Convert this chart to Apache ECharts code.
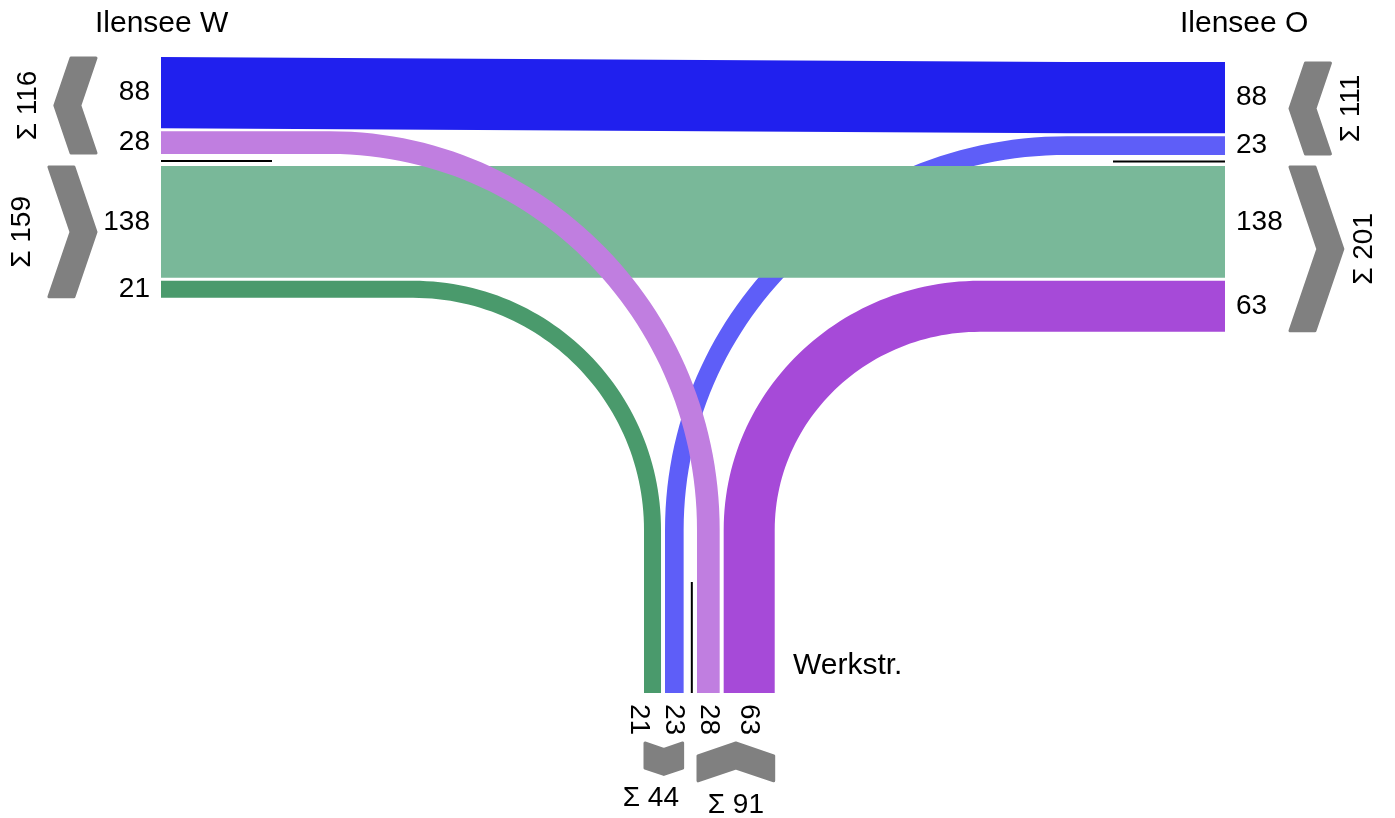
<!DOCTYPE html>
<html>
<head>
<meta charset="utf-8">
<title>Ilensee / Werkstr.</title>
<script src="https://cdn.jsdelivr.net/npm/echarts@6/dist/echarts.min.js"></script>
<style>
    html, body { margin: 0; padding: 0; background: #fff; }
    #chart { width: 1395px; height: 818px; }
</style>
</head>
<body>
<div id="chart"></div>
<script>
/**
 * DATA
 */
var armNames = ['Ilensee W', 'Ilensee O', 'Werkstr.'];
// 0: O->W, 1: Werkstr->W, 2: W->O, 3: W->Werkstr, 4: O->Werkstr, 5: Werkstr->O
var flowValues = [88, 28, 138, 21, 23, 63];
// lanes per arm, grouped (the black line splits the groups)
var westGroups = [[0, 1], [2, 3]];
var eastGroups = [[0, 4], [2, 5]];
var southGroups = [[3, 4], [1, 5]];
var westDirs = ['out', 'in'];
var eastDirs = ['in', 'out'];
var southDirs = ['out', 'in'];

/**
 * LAYOUT / STYLE
 */
var SCALE = 0.81;   // px per vehicle
var westX = 161, eastX = 1225;
var westStarts = [57, 166], eastStarts = [62, 166], southStarts = [644, 697];
var laneGap = 3, southGap = 4;
var bendY = 530, southEnd = 693;
var bendX = {1: 330, 3: 413, 4: 1067, 5: 980};
var kinkX = 1067;
var HANDLE = 0.5523;  // bezier handle, ~quarter ellipse
var flowColors = ['#2020ee', '#c07ee0', '#79b899', '#4a9a6c', '#5e5ef8', '#a64ad8'];
var drawOrder = [4, 0, 3, 5, 2, 1];
var chevronColor = '#808080';
var FONT = 'Liberation Sans, Arial, sans-serif';

function stackLanes(groups, starts, gap) {
    var pos = {};
    groups.forEach(function (g, gi) {
        var p = starts[gi];
        g.forEach(function (fi) {
            var w = flowValues[fi] * SCALE;
            pos[fi] = {start: p, width: w};
            p += w + gap;
        });
    });
    return pos;
}
var westLanes = stackLanes(westGroups, westStarts, laneGap);
var eastLanes = stackLanes(eastGroups, eastStarts, laneGap);
var southLanes = stackLanes(southGroups, southStarts, southGap);

function groupSpan(groups, lanes, gi) {
    var g = groups[gi];
    var last = lanes[g[g.length - 1]];
    return [lanes[g[0]].start, last.start + last.width];
}

// bend from (x0, y0) heading horizontally to (x1, bendY) heading down
function bend(x0, y0, x1, n) {
    var p1 = [x0 + (x1 - x0) * HANDLE, y0];
    var p2 = [x1, bendY - (bendY - y0) * HANDLE];
    var pts = [];
    for (var k = 0; k <= n; k++) {
        var t = k / n, u = 1 - t;
        var a = u * u * u, b = 3 * u * u * t, c = 3 * u * t * t, d = t * t * t;
        pts.push([a * x0 + b * p1[0] + c * p2[0] + d * x1,
                  a * y0 + b * p1[1] + c * p2[1] + d * bendY]);
    }
    return pts;
}

function bandPoints(i) {
    var w = flowValues[i] * SCALE;
    if (southLanes[i] === undefined) {
        var a = westLanes[i].start, b = eastLanes[i].start;
        return [[westX, a], [kinkX, b], [eastX, b], [eastX, b + w], [kinkX, b + w], [westX, a + w]];
    }
    var fromWest = westLanes[i] !== undefined;
    var arm = fromWest ? westLanes[i] : eastLanes[i];
    var armX = fromWest ? westX : eastX;
    var cx = bendX[i];
    var yTop = arm.start;
    var xl = southLanes[i].start;
    var outerX = fromWest ? xl + w : xl;
    var innerX = fromWest ? xl : xl + w;
    var outer = bend(cx, yTop, outerX, 60);
    var inner = bend(cx, yTop + w, innerX, 60).reverse();
    var pts = [[armX, yTop]].concat(outer);
    pts.push([outerX, southEnd], [innerX, southEnd]);
    pts = pts.concat(inner);
    pts.push([armX, yTop + w]);
    return pts;
}

// chevrons: [arm, groupIndex]
var chevronItems = [['W', 0], ['W', 1], ['O', 0], ['O', 1], ['S', 0], ['S', 1]];
var CH_T = 25, CH_K = 0.17;

function chevron(arm, gi) {
    var sp, d, dir, pts, mid;
    if (arm === 'S') {
        sp = groupSpan(southGroups, southLanes, gi);
        sp = [sp[0] + 1, sp[1] - 1];
        d = CH_K * (sp[1] - sp[0]);
        mid = (sp[0] + sp[1]) / 2;
        var y0 = 743;
        if (southDirs[gi] === 'out') {
            pts = [[sp[0], y0], [mid, y0 + d], [sp[1], y0], [sp[1], y0 + CH_T], [mid, y0 + CH_T + d], [sp[0], y0 + CH_T]];
        } else {
            pts = [[sp[0], y0 + d], [mid, y0], [sp[1], y0 + d], [sp[1], y0 + d + CH_T], [mid, y0 + CH_T], [sp[0], y0 + d + CH_T]];
        }
        return {pts: pts, text: [mid, y0 + CH_T + d + 24], rot: 0};
    }
    var west = arm === 'W';
    sp = west ? groupSpan(westGroups, westLanes, gi) : groupSpan(eastGroups, eastLanes, gi);
    sp = [sp[0] + 1, sp[1] - 1];
    d = CH_K * (sp[1] - sp[0]);
    mid = (sp[0] + sp[1]) / 2;
    dir = west ? westDirs[gi] : eastDirs[gi];
    var pointLeft = west ? dir === 'out' : dir === 'in';
    var x0 = west ? 96 - CH_T - d : 1290;   // left bound
    if (pointLeft) {
        pts = [[x0 + d, sp[0]], [x0 + d + CH_T, sp[0]], [x0 + CH_T, mid], [x0 + d + CH_T, sp[1]], [x0 + d, sp[1]], [x0, mid]];
    } else {
        pts = [[x0, sp[0]], [x0 + CH_T, sp[0]], [x0 + CH_T + d, mid], [x0 + CH_T, sp[1]], [x0, sp[1]], [x0 + d, mid]];
    }
    var tx = west ? x0 - 27 : x0 + CH_T + d + 21;
    return {pts: pts, text: [tx, mid], rot: Math.PI / 2};
}

function groupSum(groups, gi) {
    return groups[gi].reduce(function (s, fi) { return s + flowValues[fi]; }, 0);
}

// push labels apart (right to left) so they keep a minimum distance
function spread(xs, minDist) {
    for (var k = xs.length - 2; k >= 0; k--) {
        if (xs[k + 1] - xs[k] < minDist) {
            xs[k] = xs[k + 1] - minDist;
        }
    }
    return xs;
}

// text labels
var labelItems = [];
Object.keys(westLanes).forEach(function (fi) {
    var l = westLanes[fi];
    labelItems.push({text: String(flowValues[fi]), pos: [150, l.start + l.width / 2], align: 'right', rot: 0, size: 28});
});
Object.keys(eastLanes).forEach(function (fi) {
    var l = eastLanes[fi];
    labelItems.push({text: String(flowValues[fi]), pos: [1236, l.start + l.width / 2], align: 'left', rot: 0, size: 28});
});
var southOrder = southGroups[0].concat(southGroups[1]);
var southX = spread(southOrder.map(function (fi) {
    return southLanes[fi].start + southLanes[fi].width / 2;
}), 35);
southOrder.forEach(function (fi, k) {
    labelItems.push({text: String(flowValues[fi]), pos: [southX[k], 704], align: 'left', rot: -Math.PI / 2, size: 28});
});
var sumPos = chevronItems.map(function (c) { return chevron(c[0], c[1]).text; });
var sx = spread([sumPos[4][0], sumPos[5][0]], 85);
sumPos[4] = [sx[0], sumPos[4][1]];
chevronItems.forEach(function (c, k) {
    var groups = c[0] === 'W' ? westGroups : c[0] === 'O' ? eastGroups : southGroups;
    labelItems.push({text: 'Σ ' + groupSum(groups, c[1]), pos: sumPos[k], align: 'center',
        rot: chevron(c[0], c[1]).rot, size: 28});
});
labelItems.push({text: armNames[0], pos: [95, 24], align: 'left', rot: 0, size: 30});
labelItems.push({text: armNames[1], pos: [1180, 24], align: 'left', rot: 0, size: 30});
labelItems.push({text: armNames[2], pos: [793, 666], align: 'left', rot: 0, size: 30});

// separator lines between lane groups
function sepLines() {
    var w0 = groupSpan(westGroups, westLanes, 0)[1], w1 = groupSpan(westGroups, westLanes, 1)[0];
    var e0 = groupSpan(eastGroups, eastLanes, 0)[1], e1 = groupSpan(eastGroups, eastLanes, 1)[0];
    var s0 = groupSpan(southGroups, southLanes, 0)[1], s1 = groupSpan(southGroups, southLanes, 1)[0];
    var wy = (w0 + w1) / 2 + 1, ey = (e0 + e1) / 2 + 1, sx = (s0 + s1) / 2 + 1.5;
    return [
        [[westX, wy], [272, wy]],
        [[1113, ey], [eastX, ey]],
        [[sx, 582], [sx, southEnd]]
    ];
}
var separators = sepLines();

/**
 * CHART
 */
var chart = echarts.init(document.getElementById('chart'), null, {renderer: 'canvas'});

function toPx(api, pts) {
    return pts.map(function (p) { return api.coord(p); });
}

chart.setOption({
    animation: false,
    grid: {left: 0, right: 0, top: 0, bottom: 0},
    xAxis: {type: 'value', min: 0, max: 1395, show: false},
    yAxis: {type: 'value', min: 0, max: 818, inverse: true, show: false},
    series: [
        {
            type: 'custom',
            name: 'bands',
            data: drawOrder,
            renderItem: function (params, api) {
                var i = drawOrder[params.dataIndex];
                return {
                    type: 'polygon',
                    shape: {points: toPx(api, bandPoints(i))},
                    style: {fill: flowColors[i]}
                };
            }
        },
        {
            type: 'custom',
            name: 'separators',
            data: separators.map(function (s, i) { return i; }),
            renderItem: function (params, api) {
                var s = separators[params.dataIndex];
                var a = api.coord(s[0]), b = api.coord(s[1]);
                return {
                    type: 'line',
                    shape: {x1: a[0], y1: a[1], x2: b[0], y2: b[1]},
                    style: {stroke: '#000', lineWidth: 2}
                };
            }
        },
        {
            type: 'custom',
            name: 'chevrons',
            data: chevronItems.map(function (c, i) { return i; }),
            renderItem: function (params, api) {
                var c = chevronItems[params.dataIndex];
                return {
                    type: 'polygon',
                    shape: {points: toPx(api, chevron(c[0], c[1]).pts)},
                    style: {fill: chevronColor, stroke: chevronColor, lineWidth: 3, lineJoin: 'round'}
                };
            }
        },
        {
            type: 'custom',
            name: 'labels',
            data: labelItems.map(function (l, i) { return i; }),
            renderItem: function (params, api) {
                var l = labelItems[params.dataIndex];
                var p = api.coord(l.pos);
                return {
                    type: 'text',
                    x: p[0],
                    y: p[1],
                    rotation: l.rot,
                    style: {
                        text: l.text,
                        x: 0,
                        y: 0,
                        fill: '#000',
                        fontSize: l.size,
                        fontFamily: FONT,
                        align: l.align,
                        verticalAlign: 'middle'
                    }
                };
            }
        }
    ]
});
</script>
</body>
</html>
